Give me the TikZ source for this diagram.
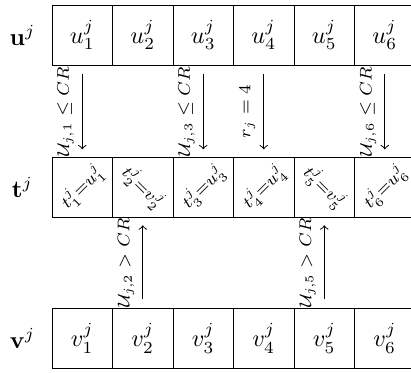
\documentclass[tikz,border=0pt]{standalone}
\usepackage{amsmath}
\usepackage{amssymb}
\usetikzlibrary{positioning,arrows}

\begin{document}
\begin{tikzpicture}[x=0.88cm,y=0.88cm]
\tikzstyle{cell}=[draw, minimum size=0.88cm, inner sep=0pt]
\tikzstyle{arr}=[->, shorten <=3.5pt, shorten >=3pt]
\tikzstyle{lab}=[midway, rotate=90, anchor=south, font=\scriptsize]

\useasboundingbox (0,0) rectangle (6.793,-6.149);

% rows of cells
\foreach \i in {1,...,6}{
  \node[cell] (u\i) at (0.36+\i,-0.583) {$u_\i^j$};
  \node[cell] (t\i) at (0.36+\i,-3.096) {};
  \node[cell] (v\i) at (0.36+\i,-5.593) {$v_\i^j$};
}
\foreach \i/\s/\a in {1/u/45,2/v/-45,3/u/45,4/u/45,5/v/-45,6/u/45}{
  \node[rotate=\a, font=\scriptsize, inner sep=0pt] (e\i) at (t\i) {$t_\i^j{=}\s_\i^j$};
}

\node (lu) at (0.37,-0.583) {$\mathbf{u}^j$};
\node (lt) at (0.37,-3.096) {$\mathbf{t}^j$};
\node (lv) at (0.37,-5.593) {$\mathbf{v}^j$};

% crossover
\foreach \i in {1,3,6}{
  \draw[arr] (u\i) -- node[lab] {$\mathcal{U}_{j,\i}\leq CR$} (t\i);
}
\draw[arr] (u4) -- node[lab] {$r_j=4$} (t4);
\foreach \i in {2,5}{
  \draw[arr] (v\i) -- node[lab] {$\mathcal{U}_{j,\i}>CR$} (t\i);
}

\end{tikzpicture}
\end{document}
